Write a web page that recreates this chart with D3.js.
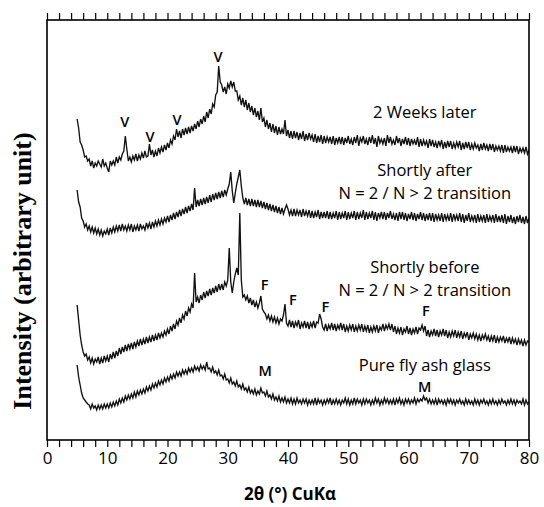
<!DOCTYPE html>
<html>
<head>
<meta charset="utf-8">
<script src="https://cdn.jsdelivr.net/npm/d3@7"></script>
<style>
  body { margin: 0; background: #fff; }
  svg { display: block; }
</style>
</head>
<body>
<svg id="chart" width="544" height="507"></svg>
<script>
// XRD scans, 2θ from 5° to 80° in 0.25° steps; intensities are stacked, arbitrary units
const scanStart = 5;
const scanStep = 0.25;

const weeksLater = [
321,312,298,295, 290,283,284,279, 281,274,279,272, 277,274,279,276, 273,281,274,277,
272,268,279,275, 279,275,283,277, 283,280,286,289, 304,291,279,283, 278,284,280,286,
279,285,281,287, 282,289,283,284, 296,285,290,283, 289,284,292,287, 293,288,295,290,
297,292,300,296, 304,300,311,303, 309,302,311,305, 312,306,313,307, 314,309,316,311,
319,313,321,316, 324,318,328,322, 331,326,336,333, 345,348,374,358, 355,348,353,346,
356,352,359,353, 358,349,349,340, 344,335,342,333, 340,330,337,328, 334,325,332,323,
329,320,332,318, 322,313,320,311, 317,308,316,307, 314,305,313,306, 311,306,320,304,
310,302,309,301, 309,302,308,300, 307,301,309,299, 306,300,307,301, 305,298,306,297,
304,298,305,296, 304,297,303,298, 303,296,304,295, 302,297,303,296, 303,295,302,297,
304,296,301,295, 303,297,305,294, 302,298,304,296, 301,295,303,297, 305,296,302,293,
304,297,301,296, 302,294,305,297, 303,296,300,295, 304,297,302,294, 301,296,303,295,
302,294,301,296, 300,295,303,293, 301,294,300,295, 299,292,301,294, 300,293,298,292,
299,294,300,291, 298,292,299,293, 299,291,297,292, 298,293,299,290, 297,291,298,292,
298,290,296,291, 297,292,295,289, 296,290,297,291, 295,289,296,290, 296,288,294,290,
294,289,295,287, 295,288,293,289, 293,287,294,288, 294,286,292,288, 292,287,293,286,
290];

const shortlyAfter = [
250,238,233,222, 219,213,216,210, 214,208,213,207, 212,206,211,205, 210,204,209,206,
211,205,212,207, 213,208,214,209, 215,209,216,210, 214,209,215,210, 216,208,214,210,
215,209,216,211, 214,210,217,212, 217,211,218,213, 219,214,220,215, 221,216,222,218,
224,218,225,220, 227,221,228,223, 230,224,231,226, 233,227,234,229, 236,230,252,233,
240,234,241,235, 242,236,243,237, 245,238,246,240, 247,241,248,242, 249,243,250,245,
251,256,268,249, 237,247,256,263, 270,254,242,236, 242,235,241,234, 241,234,240,233,
240,233,239,232, 238,231,237,230, 236,229,235,228, 234,227,233,226, 232,226,231,235,
231,225,230,224, 231,224,230,225, 230,223,231,224, 229,224,230,222, 229,222,228,223,
230,221,228,222, 228,222,229,221, 228,221,227,222, 229,220,228,221, 227,222,229,220,
228,221,227,222, 229,220,228,221, 227,222,230,220, 228,221,227,222, 229,220,228,219,
227,222,228,221, 228,220,227,222, 229,221,226,220, 227,219,228,221, 228,220,227,219,
226,221,228,220, 227,219,226,221, 228,220,227,219, 226,220,227,219, 227,218,226,220,
225,219,227,218, 226,220,225,219, 227,218,226,220, 225,219,227,218, 226,217,225,219,
227,218,224,219, 225,217,226,218, 224,219,225,217, 226,218,224,219, 225,217,226,218,
224,218,225,217, 226,216,224,218, 225,217,223,216, 224,218,225,217, 223,216,224,217,
222];

const shortlyBefore = [
135,120,105,95, 88,84,86,80, 83,77,82,76, 81,78,83,76, 82,77,84,79,
84,78,86,81, 88,82,89,84, 92,86,93,88, 95,89,96,91, 97,91,98,93,
99,94,101,95, 101,96,103,97, 103,98,105,99, 105,100,107,102, 107,103,109,105,
111,106,114,109, 116,111,119,115, 122,117,125,121, 129,124,132,128, 136,132,167,138,
143,137,145,140, 148,142,149,144, 151,145,152,147, 154,148,156,150, 156,150,158,154,
160,192,158,147, 158,166,172,165, 227,160,143,145, 140,144,137,142, 135,140,133,138,
132,137,144,131, 128,126,121,125, 119,124,118,123, 117,122,116,121, 119,125,136,117,
114,120,113,119, 112,118,114,120, 111,117,113,119, 112,118,111,117, 113,119,112,118,
117,126,121,113, 110,116,109,115, 111,117,110,116, 109,115,111,117, 110,116,108,114,
109,115,110,116, 108,114,109,115, 110,116,108,114, 109,115,107,113, 108,114,109,115,
107,113,110,116, 109,115,111,116, 110,116,108,114, 106,112,107,113, 105,111,108,114,
106,112,105,111, 107,113,106,112, 110,115,109,114, 104,110,103,109, 105,111,104,110,
103,109,105,111, 104,110,102,108, 103,109,104,110, 102,108,103,109, 101,107,103,108,
100,106,102,107, 101,106,100,105, 99,105,101,106, 100,104,98,104, 99,105,97,103,
98,103,99,104, 97,102,98,103, 96,102,97,101, 95,101,96,100, 94,100,95,99,
98];

const flyAshGlass = [
75,63,55,47, 42,40,38,36, 35,31,36,32, 34,30,35,31, 35,31,36,32,
36,32,37,33, 38,34,39,35, 41,37,42,38, 44,40,45,41, 46,42,48,43,
49,45,50,46, 51,47,53,49, 54,50,56,52, 57,53,59,55, 60,56,62,58,
63,59,65,61, 66,62,68,64, 68,64,70,66, 70,66,72,68, 72,68,74,70,
73,69,75,71, 74,70,78,71, 72,68,73,67, 69,65,70,64, 65,61,66,60,
61,57,62,56, 58,54,59,53, 55,51,56,50, 52,48,53,47, 50,46,51,45,
49,46,52,47, 48,44,49,43, 45,41,46,40, 43,39,44,38, 42,38,43,37,
41,37,42,36, 41,36,42,37, 40,36,41,37, 41,35,40,36, 40,36,42,35,
41,37,40,35, 40,36,41,37, 42,35,40,36, 41,36,40,35, 40,37,42,36,
41,35,40,36, 42,36,41,37, 40,35,41,36, 41,37,40,35, 40,36,42,37,
41,35,40,36, 42,37,41,36, 40,36,41,35, 41,37,42,36, 40,35,41,37,
41,36,40,37, 42,36,41,38, 41,39,44,40, 42,37,41,36, 40,36,41,35,
41,37,40,36, 40,35,41,37, 41,36,40,35, 40,37,41,36, 39,35,41,36,
40,36,39,35, 41,36,40,35, 40,37,41,36, 39,35,40,36, 41,36,39,35,
40,36,41,37, 39,35,40,36, 41,36,40,35, 40,37,39,36, 41,35,40,36,
38];

const xTickLabels = [0, 10, 20, 30, 40, 50, 60, 70, 80];

// Captions for each scan: text lines anchored at (2θ, intensity)
const scanCaptions = [
  { lines: ["2 Weeks later"], t: 62.7, i: 328 },
  { lines: ["Shortly after", "N = 2 / N > 2 transition"], t: 62.7, i: 270 },
  { lines: ["Shortly before", "N = 2 / N > 2 transition"], t: 62.7, i: 173 },
  { lines: ["Pure fly ash glass"], t: 62.7, i: 75 }
];

// Phase markers over peaks (V, F, M)
const peakMarks = [
  { s: "V", t: 12.9, i: 318 },
  { s: "V", t: 17.1, i: 303 },
  { s: "V", t: 21.6, i: 320 },
  { s: "V", t: 28.4, i: 383 },
  { s: "F", t: 36.1, i: 155 },
  { s: "F", t: 40.8, i: 140 },
  { s: "F", t: 46.2, i: 133 },
  { s: "F", t: 62.9, i: 129 },
  { s: "M", t: 36.2, i: 69 },
  { s: "M", t: 62.7, i: 53 }
];

const plot = { left: 47, right: 529, top: 20, bottom: 440 };
const svg = d3.select("#chart");

const x = d3.scaleLinear().domain([0, 80]).range([plot.left, plot.right]);
const y = d3.scaleLinear().domain([0, 420]).range([plot.bottom, plot.top]);

const sansFont = "'Open Sans', 'Noto Sans', 'DejaVu Sans', sans-serif";

svg.append("defs").append("clipPath").attr("id", "plotClip")
  .append("rect")
  .attr("x", plot.left).attr("y", plot.top)
  .attr("width", plot.right - plot.left).attr("height", plot.bottom - plot.top);

// Scans
const line = d3.line()
  .x((d, k) => x(scanStart + k * scanStep))
  .y(d => y(d));

const scans = [weeksLater, shortlyAfter, shortlyBefore, flyAshGlass];
svg.append("g").attr("clip-path", "url(#plotClip)")
  .selectAll("path").data(scans).join("path")
  .attr("d", line)
  .attr("fill", "none")
  .attr("stroke", "#111")
  .attr("stroke-width", 1.35)
  .attr("stroke-linejoin", "miter");

// Axes: ticks every 2°, labels every 10°
const minorTicks = d3.range(0, 81, 2);
const bottomAxis = d3.axisBottom(x)
  .tickValues(minorTicks)
  .tickSize(7)
  .tickPadding(5)
  .tickFormat(d => xTickLabels.includes(d) ? d : "");
const topAxis = d3.axisTop(x)
  .tickValues(minorTicks)
  .tickSize(7)
  .tickFormat("");

const gb = svg.append("g").attr("transform", `translate(0,${plot.bottom})`).call(bottomAxis);
const gt = svg.append("g").attr("transform", `translate(0,${plot.top})`).call(topAxis);
[gb, gt].forEach(g => {
  g.select(".domain").remove();
  g.selectAll(".tick line").attr("stroke", "#000").attr("stroke-width", 1.2);
});
gb.selectAll(".tick text")
  .attr("font-family", sansFont)
  .attr("font-size", 17)
  .attr("fill", "#000");

// Frame
svg.append("rect")
  .attr("x", plot.left).attr("y", plot.top)
  .attr("width", plot.right - plot.left).attr("height", plot.bottom - plot.top)
  .attr("fill", "none").attr("stroke", "#000").attr("stroke-width", 1.6);

// Axis titles
svg.append("text")
  .attr("x", 290).attr("y", 500)
  .attr("text-anchor", "middle")
  .attr("font-family", sansFont)
  .attr("font-weight", "bold")
  .attr("font-size", 17)
  .text("2θ (°) CuKα");

svg.append("text")
  .attr("transform", "translate(31,271) rotate(-90)")
  .attr("text-anchor", "middle")
  .attr("font-family", "'Liberation Serif', 'Times New Roman', serif")
  .attr("font-weight", "bold")
  .attr("font-size", 26)
  .text("Intensity (arbitrary unit)");

// Scan captions
const cap = svg.append("g")
  .attr("font-family", sansFont)
  .attr("font-size", 16.5)
  .attr("text-anchor", "middle");
scanCaptions.forEach(c => {
  c.lines.forEach((ln, k) => {
    cap.append("text")
      .attr("x", x(c.t))
      .attr("y", y(c.i) + k * 23)
      .attr("dy", "0.35em")
      .text(ln);
  });
});

// Peak markers
svg.append("g")
  .attr("font-family", sansFont)
  .attr("font-size", 14.5)
  .attr("font-weight", 600)
  .attr("text-anchor", "middle")
  .selectAll("text").data(peakMarks).join("text")
  .attr("x", d => x(d.t))
  .attr("y", d => y(d.i))
  .attr("dy", "0.35em")
  .text(d => d.s);
</script>
</body>
</html>
